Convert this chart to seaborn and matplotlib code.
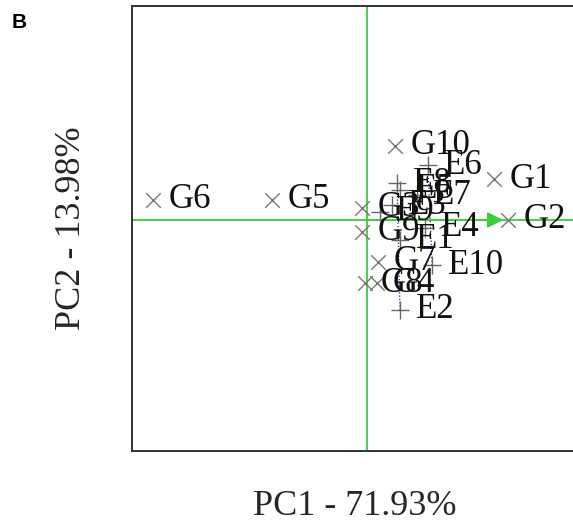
import matplotlib
matplotlib.use("Agg")
import matplotlib.pyplot as plt
import seaborn as sns
import pandas as pd

# Genotype scores (PC1, PC2)
genotypes = ["G1", "G2", "G3", "G4", "G5", "G6", "G7", "G8", "G9", "G10"]
g_pc1 = [1.27, 1.41, -0.05, 0.10, -0.95, -2.14, 0.11, -0.02, -0.05, 0.28]
g_pc2 = [0.41, 0.00, 0.12, -0.63, 0.20, 0.20, -0.42, -0.63, -0.12, 0.74]

# Environment scores (PC1, PC2)
environments = ["E1", "E2", "E3", "E4", "E5", "E6", "E7", "E8", "E9", "E10"]
e_pc1 = [0.33, 0.33, 0.25, 0.58, 0.33, 0.61, 0.50, 0.30, 0.13, 0.65]
e_pc2 = [-0.20, -0.90, 0.15, -0.08, 0.30, 0.55, 0.25, 0.37, 0.08, -0.45]

x_label = "PC1 - 71.93%"
y_label = "PC2 - 13.98%"
panel = "B"

sns.set_style("white")
plt.rcParams["font.family"] = ["Liberation Serif", "DejaVu Serif"]

gdf = pd.DataFrame({"PC1": g_pc1, "PC2": g_pc2, "name": genotypes})
edf = pd.DataFrame({"PC1": e_pc1, "PC2": e_pc2, "name": environments})

fig = plt.figure(figsize=(5.73, 5.25), dpi=100)
ax = fig.add_axes([132 / 573, 74 / 525, 446 / 573, 445 / 525])

xlim = (-2.35, 2.11)
ylim = (-2.31, 2.14)

green = "#3ccd3c"
ax.axvline(0, color=green, lw=1.3, zorder=1)
ax.axhline(0, color=green, lw=1.3, zorder=1)
# average environment axis arrow towards G2
ax.annotate("", xy=(g_pc1[1] - 0.02, 0), xytext=(0, 0),
            arrowprops=dict(arrowstyle="-|>", color=green, lw=1.3,
                            mutation_scale=24), zorder=2)

# dotted connectors between environments
ei = {n: i for i, n in enumerate(environments)}
for a, b in [("E2", "E8"), ("E10", "E6")]:
    ax.plot([e_pc1[ei[a]], e_pc1[ei[b]]], [e_pc2[ei[a]], e_pc2[ei[b]]],
            ls=":", color="#1a1a8c", lw=0.9, zorder=2)

sns.scatterplot(data=gdf, x="PC1", y="PC2", marker="x", s=110, color="#777777",
                linewidth=1.0, ax=ax, zorder=3, legend=False)
sns.scatterplot(data=edf, x="PC1", y="PC2", marker="+", s=170, color="#666666",
                linewidth=1.0, ax=ax, zorder=3, legend=False)

for df in (gdf, edf):
    for _, r in df.iterrows():
        ax.text(r["PC1"] + 0.16, r["PC2"], r["name"], fontsize=25,
                va="center", ha="left", color="#111111", zorder=4)

ax.set_xlim(*xlim)
ax.set_ylim(*ylim)
ax.set_xticks([])
ax.set_yticks([])
ax.set_xlabel(x_label, fontsize=26, labelpad=28)
ax.set_ylabel(y_label, fontsize=26, labelpad=32)
for s in ax.spines.values():
    s.set_color("#333333")
    s.set_linewidth(1.4)

fig.text(12 / 573, 1 - 28 / 525, panel, fontsize=15, fontweight="bold",
         family=["Liberation Sans", "DejaVu Sans"], color="black")

fig.savefig("out.png", dpi=100)
